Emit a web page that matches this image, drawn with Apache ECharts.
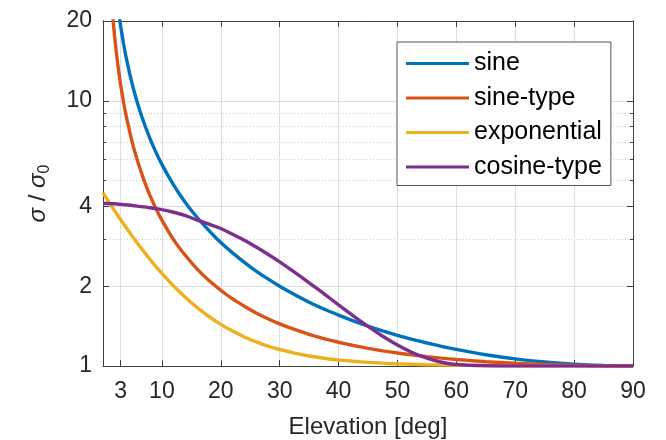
<!DOCTYPE html>
<html>
<head>
<meta charset="utf-8">
<script src="https://cdn.jsdelivr.net/npm/echarts@6/dist/echarts.min.js"></script>
<style>
html, body { margin: 0; padding: 0; background: #fff; }
#chart { width: 666px; height: 440px; }
</style>
</head>
<body>
<div id="chart"></div>
<script>
// elevation in degrees, values are sigma / sigma0
var elevation = [0, 1, 1.5, 2, 2.5, 3, 3.5, 4, 5, 6, 7, 8, 9, 10, 12, 14, 16, 18, 20, 22, 24, 26, 28, 30,
  32.5, 35, 37.5, 40, 42.5, 45, 47.5, 50, 52.5, 55, 57.5, 60, 65, 70, 75, 80, 85, 90];
var sine = [null, 57.30, 38.20, 28.65, 22.93, 19.11, 16.38, 14.34, 11.47, 9.57, 8.21, 7.19, 6.39, 5.76,
  4.81, 4.13, 3.63, 3.24, 2.92, 2.67, 2.46, 2.28, 2.13, 2.00, 1.86, 1.74, 1.64, 1.556, 1.480, 1.414, 1.356, 1.305,
  1.260, 1.221, 1.186, 1.155, 1.103, 1.064, 1.035, 1.015, 1.004, 1.0];
var sineType = [null, 34.39, 22.93, 17.21, 13.78, 11.49, 9.86, 8.64, 6.93, 5.80, 4.99, 4.38, 3.92, 3.55,
  2.99, 2.61, 2.32, 2.10, 1.93, 1.79, 1.68, 1.585, 1.508, 1.442, 1.374, 1.317, 1.269, 1.229, 1.195, 1.166,
  1.141, 1.120, 1.101, 1.085, 1.071, 1.058, 1.038, 1.024, 1.013, 1.006, 1.001, 1.0];
var exponential = [4.50, 4.15, 3.99, 3.84, 3.70, 3.56, 3.43, 3.31, 3.079, 2.874, 2.688, 2.521, 2.371, 2.235,
  2.002, 1.814, 1.661, 1.537, 1.436, 1.354, 1.287, 1.233, 1.189, 1.154, 1.119, 1.091, 1.070, 1.054, 1.042, 1.032,
  1.025, 1.019, 1.015, 1.011, 1.009, 1.007, 1.004, 1.002, 1.001, 1.001, 1.0, 1.0];
var cosineType = [4.10, 4.10, 4.09, 4.09, 4.08, 4.07, 4.06, 4.05, 4.03, 4.00, 3.98, 3.95, 3.92, 3.89,
  3.80, 3.69, 3.55, 3.43, 3.30, 3.14, 2.98, 2.81, 2.64, 2.47, 2.26, 2.06, 1.875, 1.70, 1.545, 1.41, 1.295,
  1.20, 1.125, 1.07, 1.033, 1.013, 1.002, 1.0, 1.0, 1.0, 1.0, 1.0];

var seriesNames = ['sine', 'sine-type', 'exponential', 'cosine-type'];
var seriesColors = ['#0072BD', '#D95319', '#EDB120', '#7E2F8E'];
var xTicks = [3, 10, 20, 30, 40, 50, 60, 70, 80, 90];
var yTicks = [1, 2, 4, 10, 20];
var yMinorTicks = [3, 5, 6, 7, 8, 9];

var font = '"Liberation Sans", Arial, Helvetica, sans-serif';
var axisColor = '#404040';

function pairs(vals) {
  var out = [];
  vals.forEach(function (v, i) {
    if (v !== null) out.push([elevation[i], v]);
  });
  return out;
}

var dom = document.getElementById('chart');
var myChart = echarts.init(dom, null, { renderer: 'canvas' });

function xAxisDef(pos, labels, grid) {
  return {
    type: 'value', position: pos, min: 0, max: 90,
    axisLine: { show: true, onZero: false, lineStyle: { color: axisColor, width: 1 } },
    axisTick: { show: true, inside: true, length: 6, customValues: xTicks, lineStyle: { color: axisColor } },
    axisLabel: { show: labels, customValues: xTicks, margin: 14, color: '#262626', fontSize: 23, fontFamily: font },
    splitLine: { show: grid, lineStyle: { color: '#dedede', width: 1 } }
  };
}

function yAxisDef(pos, ticks, len, labels, grid, dotted) {
  return {
    type: 'log', logBase: 10, position: pos, min: 1, max: 20,
    axisLine: { show: true, onZero: false, lineStyle: { color: axisColor, width: 1 } },
    axisTick: { show: true, inside: true, length: len, customValues: ticks, lineStyle: { color: axisColor } },
    axisLabel: {
      show: labels, customValues: ticks, margin: 11, color: '#262626', fontSize: 23, fontFamily: font,
      formatter: function (v) { return String(Math.round(v)); }
    },
    splitLine: { show: grid, lineStyle: { color: dotted ? '#cfcfcf' : '#dedede', width: 1, type: dotted ? [1, 2] : 'solid' } }
  };
}

var yLeft = yAxisDef('left', yTicks, 6, true, true, false);
yLeft.name = '{s|σ} / {s|σ}{sub|0}';
yLeft.nameLocation = 'middle';
yLeft.nameRotate = 90;
yLeft.nameGap = 50;
yLeft.nameTextStyle = {
  color: '#262626', fontFamily: font, fontSize: 24,
  rich: {
    s: { fontStyle: 'italic', fontSize: 24, fontFamily: font, color: '#262626' },
    sub: { fontSize: 16, fontFamily: font, color: '#262626', padding: [14, 0, 0, 0] }
  }
};

var xBottom = xAxisDef('bottom', true, true);
xBottom.name = 'Elevation [deg]';
xBottom.nameLocation = 'middle';
xBottom.nameGap = 49;
xBottom.nameTextStyle = { color: '#262626', fontFamily: font, fontSize: 24 };

var option = {
  animation: false,
  backgroundColor: '#fff',
  grid: { left: 103, right: 33, top: 21, bottom: 74, outerBoundsMode: 'none', containLabel: false },
  legend: {
    orient: 'vertical', left: 397, top: 42,
    padding: [9, 9, 6, 9], itemGap: 9.5,
    itemWidth: 63, itemHeight: 3, icon: 'rect',
    backgroundColor: '#fff', borderColor: '#555', borderWidth: 1, borderRadius: 0,
    textStyle: { color: '#000', fontSize: 25, fontFamily: font },
    data: seriesNames
  },
  xAxis: [xBottom, xAxisDef('top', false, false)],
  yAxis: [
    yLeft,
    yAxisDef('left', yMinorTicks, 3, false, true, true),
    yAxisDef('right', yTicks, 6, false, false, false),
    yAxisDef('right', yMinorTicks, 3, false, false, false)
  ],
  series: [sine, sineType, exponential, cosineType].map(function (vals, i) {
    return {
      name: seriesNames[i],
      type: 'line',
      xAxisIndex: 0,
      yAxisIndex: 0,
      showSymbol: false,
      smooth: 0.2,
      color: seriesColors[i],
      lineStyle: { width: 3.4, color: seriesColors[i] },
      data: pairs(vals)
    };
  })
};

myChart.setOption(option);
</script>
</body>
</html>
